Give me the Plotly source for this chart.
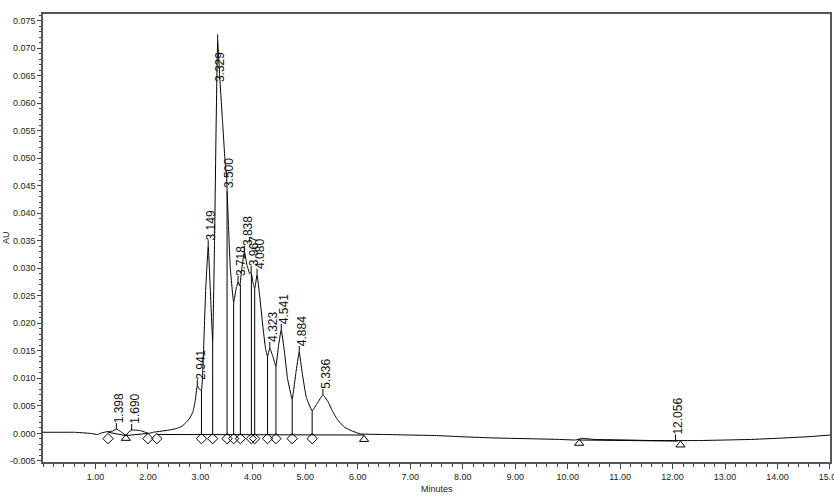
import plotly.graph_objects as go

# ---- chromatogram trace (minutes, AU) ----
time = [0.00, 0.30, 0.60, 0.90, 1.04, 1.12, 1.22, 1.32, 1.398, 1.47, 1.53, 1.58, 1.63, 1.69,
        1.76, 1.86, 1.95, 2.02, 2.10, 2.25, 2.40, 2.55, 2.65, 2.73, 2.80, 2.86, 2.90, 2.941,
        2.98, 3.02, 3.06, 3.10, 3.149, 3.19, 3.234, 3.27, 3.30, 3.329, 3.37, 3.42, 3.47, 3.50,
        3.51, 3.535, 3.57, 3.634, 3.68, 3.718, 3.75, 3.79, 3.838, 3.89, 3.94, 3.967, 4.00,
        4.035, 4.080, 4.13, 4.19, 4.24, 4.28, 4.323, 4.38, 4.44, 4.49, 4.541, 4.60, 4.66,
        4.75, 4.82, 4.884, 4.94, 5.02, 5.13, 5.23, 5.336, 5.43, 5.52, 5.62, 5.75, 5.90, 6.05,
        6.50, 7.00, 7.50, 7.95, 8.50, 8.90, 9.40, 9.85, 10.15, 10.28, 10.50, 11.13, 11.60,
        12.08, 12.50, 13.03, 13.50, 13.98, 14.60, 15.00]
au = [0.0002, 0.0002, 0.0002, 0.0000, -0.0002, 0.0001, 0.0003, 0.0004, 0.0008, 0.0004, 0.0000,
      -0.0004, 0.0002, 0.0006, 0.0006, 0.0005, 0.0002, 0.0000, 0.0002, 0.0004, 0.0006, 0.0009,
      0.0013, 0.0020, 0.0028, 0.0040, 0.0058, 0.0087, 0.0080, 0.0078, 0.0150, 0.0260, 0.0340,
      0.0260, 0.0167, 0.0350, 0.0560, 0.0714, 0.0645, 0.0570, 0.0495, 0.0465, 0.0440, 0.0378,
      0.0300, 0.0238, 0.0262, 0.0275, 0.0268, 0.0300, 0.0330, 0.0305, 0.0290, 0.0293, 0.0275,
      0.0263, 0.0288, 0.0250, 0.0195, 0.0155, 0.0140, 0.0155, 0.0140, 0.0122, 0.0160, 0.0188,
      0.0150, 0.0100, 0.0062, 0.0110, 0.0148, 0.0110, 0.0065, 0.0041, 0.0055, 0.0070, 0.0058,
      0.0040, 0.0024, 0.0011, 0.0004, -0.0001, -0.0002, -0.0003, -0.0004, -0.0006, -0.0008,
      -0.0009, -0.0010, -0.0011, -0.0012, -0.0009, -0.0011, -0.0012, -0.0013, -0.0013,
      -0.0013, -0.0012, -0.0011, -0.0009, -0.0006, -0.0003]

# ---- integration baseline segments ----
base_t = [1.24, 1.58, 2.00, None, 2.17, 6.12, None, 10.22, 12.10]
base_v = [0.0002, -0.0004, 0.0000, None, -0.0002, -0.0003, None, -0.0012, -0.0014]

# ---- drop lines (time, top AU) ----
drop_t = [3.02, 3.234, 3.508, 3.634, 3.762, 3.972, 4.035, 4.28, 4.44, 4.75, 5.13]
drop_top = [0.0078, 0.0167, 0.0440, 0.0238, 0.0270, 0.0290, 0.0263, 0.0140, 0.0122, 0.0062, 0.0041]
drop_base = -0.0002

# ---- peak start/end markers ----
diamond_t = [1.24, 2.00, 2.17, 3.02, 3.234, 3.508, 3.634, 3.762, 3.972, 4.035, 4.28, 4.44, 4.75, 5.13]
diamond_v = -0.00095
tri_t = [1.58, 6.12, 10.22, 12.15]
tri_v = [-0.0009, -0.0011, -0.0018, -0.0021]

# ---- labelled peaks ----
peak_labels = ["1.398", "1.690", "2.941", "3.149", "3.329", "3.500", "3.718", "3.838",
               "3.967", "4.080", "4.323", "4.541", "4.884", "5.336", "12.056"]
peak_t = [1.398, 1.690, 2.941, 3.149, 3.329, 3.500, 3.718, 3.838, 3.967, 4.080, 4.323,
          4.541, 4.884, 5.336, 12.056]
peak_v = [0.0008, 0.0006, 0.0087, 0.0340, 0.0714, 0.0465, 0.0275, 0.0330, 0.0293, 0.0288,
          0.0155, 0.0188, 0.0148, 0.0070, -0.0013]

y_ticks = [-0.005 + 0.005 * i for i in range(17)]
y_ticktext = ["%.3f" % v if v >= -1e-9 else "-%.3f" % abs(v) for v in y_ticks]
y_ticktext = [t.replace("-0.000", "0.000") for t in y_ticktext]
x_ticks = list(range(1, 16))
x_ticktext = ["%.2f" % v for v in x_ticks]

TICK_AU = 0.0011  # apex tick height in AU

fig = go.Figure()
fig.add_trace(go.Scatter(x=time, y=au, mode="lines",
                         line=dict(color="black", width=1, shape="spline", smoothing=0.3),
                         hoverinfo="skip", cliponaxis=False))
fig.add_trace(go.Scatter(x=base_t, y=base_v, mode="lines",
                         line=dict(color="black", width=1), hoverinfo="skip"))
dx, dy = [], []
for t, top in zip(drop_t, drop_top):
    dx += [t, t, None]
    dy += [drop_base, top, None]
fig.add_trace(go.Scatter(x=dx, y=dy, mode="lines", line=dict(color="black", width=1),
                         hoverinfo="skip"))
ax_, ay_ = [], []
for t, v in zip(peak_t, peak_v):
    ax_ += [t, t, None]
    ay_ += [v, v + TICK_AU, None]
fig.add_trace(go.Scatter(x=ax_, y=ay_, mode="lines", line=dict(color="black", width=1),
                         hoverinfo="skip"))
fig.add_trace(go.Scatter(x=diamond_t, y=[diamond_v] * len(diamond_t), mode="markers",
                         marker=dict(symbol="diamond-open", size=8, color="black",
                                     line=dict(width=1)), hoverinfo="skip"))
fig.add_trace(go.Scatter(x=tri_t, y=tri_v, mode="markers",
                         marker=dict(symbol="triangle-up-open", size=8, color="black",
                                     line=dict(width=1)), hoverinfo="skip"))

annotations = []
for lab, t, v in zip(peak_labels, peak_t, peak_v):
    ann = dict(x=t, y=v, xref="x", yref="y", text=lab, showarrow=False, textangle=-90,
               xanchor="center", yanchor="bottom", xshift=3, yshift=4,
               font=dict(family="Liberation Sans", size=12, color="#111"))
    if lab == "3.329":
        ann.update(yanchor="top", yshift=-10)
    if lab == "3.500":
        ann.update(yanchor="top", yshift=21)
    annotations.append(ann)

annotations.append(dict(x=0.5, y=0, xref="paper", yref="paper", text="Minutes",
                        showarrow=False, yanchor="middle", yshift=-27,
                        font=dict(family="Liberation Sans", size=9, color="#222")))
annotations.append(dict(x=0, y=0.5, xref="paper", yref="paper", text="AU",
                        showarrow=False, textangle=-90, xanchor="center", xshift=-37,
                        font=dict(family="Liberation Sans", size=9, color="#222")))

fig.update_layout(
    width=834, height=496,
    margin=dict(l=43, r=4, t=14, b=34),
    paper_bgcolor="white", plot_bgcolor="white",
    showlegend=False,
    annotations=annotations,
    xaxis=dict(range=[0, 15.0005], tickmode="array", tickvals=x_ticks, ticktext=x_ticktext,
               ticks="outside", ticklen=5, tickwidth=1, tickcolor="#444",
               showline=True, linecolor="#555", linewidth=1.5, mirror=True,
               showgrid=False, zeroline=False, automargin=False,
               ticklabeloverflow="allow",
               tickfont=dict(family="Liberation Sans", size=9, color="#222"),
               minor=dict(tick0=0, dtick=0.2, ticks="outside", ticklen=3,
                          tickcolor="#444", showgrid=False)),
    yaxis=dict(range=[-0.0052, 0.0762], tickmode="array", tickvals=y_ticks,
               ticktext=y_ticktext,
               ticks="outside", ticklen=4, tickwidth=1, tickcolor="#444",
               showline=True, linecolor="#555", linewidth=1.5, mirror=True,
               showgrid=False, zeroline=False, automargin=False,
               tickfont=dict(family="Liberation Sans", size=9, color="#222"),
               minor=dict(tick0=0, dtick=0.001, ticks="outside", ticklen=2,
                          tickcolor="#444", showgrid=False)),
)

fig.write_html("out.html")
